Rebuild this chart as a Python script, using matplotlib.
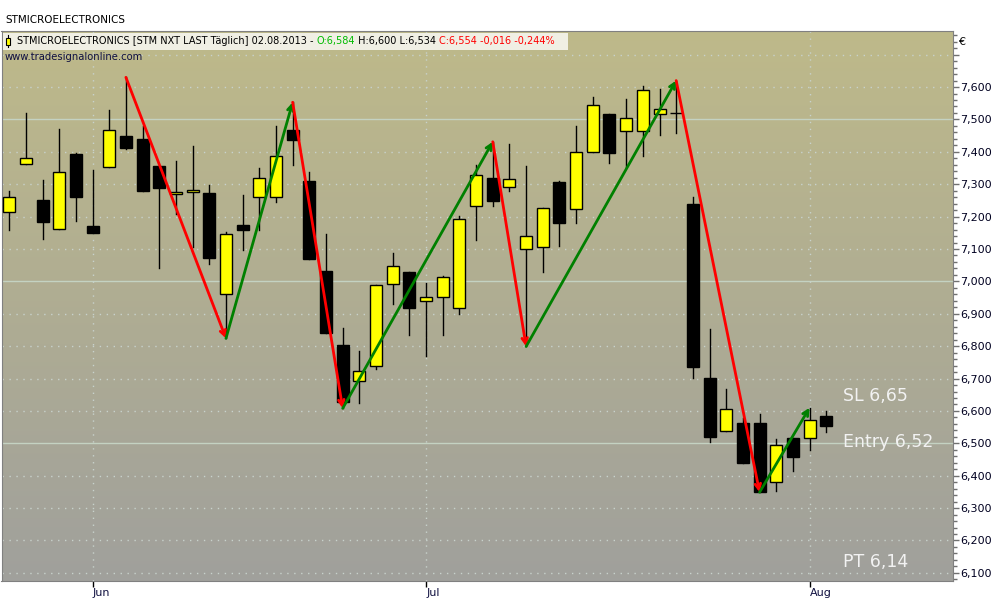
import numpy as np
import pandas as pd
import matplotlib
matplotlib.use("Agg")
import matplotlib.pyplot as plt
from matplotlib.patches import Rectangle
from matplotlib.ticker import MultipleLocator, FuncFormatter

# daily OHLC, STMicroelectronics 27.05.2013 - 02.08.2013
opens = [7.213, 7.361, 7.251, 7.161, 7.392, 7.171, 7.352, 7.448, 7.440, 7.355,
         7.269, 7.275, 7.273, 6.960, 7.174, 7.259, 7.259, 7.467, 7.310, 7.032,
         6.804, 6.691, 6.738, 6.991, 7.028, 6.938, 6.951, 6.917, 7.232, 7.319,
         7.290, 7.099, 7.105, 7.306, 7.222, 7.398, 7.517, 7.463, 7.463, 7.516,
         7.519, 7.239, 6.702, 6.537, 6.562, 6.562, 6.380, 6.516, 6.515, 6.584]
highs = [7.279, 7.520, 7.313, 7.470, 7.396, 7.344, 7.529, 7.630, 7.480, 7.355,
         7.372, 7.418, 7.298, 7.151, 7.267, 7.351, 7.480, 7.553, 7.338, 7.147,
         6.857, 6.785, 6.988, 7.088, 7.028, 6.995, 7.016, 7.202, 7.358, 7.431,
         7.424, 7.356, 7.226, 7.310, 7.480, 7.569, 7.517, 7.563, 7.602, 7.594,
         7.620, 7.261, 6.854, 6.668, 6.578, 6.590, 6.514, 6.516, 6.610, 6.600]
lows = [7.160, 7.361, 7.131, 7.161, 7.187, 7.148, 7.352, 7.410, 7.280, 7.042,
        7.209, 7.107, 7.055, 6.824, 7.098, 7.160, 7.246, 7.360, 7.070, 6.842,
        6.608, 6.626, 6.728, 6.931, 6.833, 6.771, 6.833, 6.900, 7.129, 7.234,
        7.280, 6.799, 7.030, 7.110, 7.181, 7.398, 7.366, 7.349, 7.388, 7.453,
        7.457, 6.703, 6.505, 6.537, 6.439, 6.349, 6.354, 6.416, 6.480, 6.534]
closes = [7.260, 7.380, 7.184, 7.337, 7.259, 7.148, 7.466, 7.413, 7.280, 7.289,
          7.275, 7.281, 7.073, 7.146, 7.160, 7.318, 7.386, 7.437, 7.070, 6.842,
          6.629, 6.722, 6.988, 7.047, 6.919, 6.951, 7.013, 7.192, 7.330, 7.249,
          7.315, 7.139, 7.226, 7.181, 7.401, 7.546, 7.397, 7.503, 7.590, 7.531,
          7.519, 6.735, 6.520, 6.607, 6.439, 6.349, 6.494, 6.458, 6.571, 6.554]

dates = pd.bdate_range("2013-05-27", "2013-08-02")
month_names = {6: "Jun", 7: "Jul", 8: "Aug"}

# zigzag pivots: (candle index, 'H' = high / 'L' = low)
pivots = [(7, "H"), (13, "L"), (17, "H"), (20, "L"), (29, "H"),
          (31, "L"), (40, "H"), (45, "L"), (48, "H")]

levels = ["SL 6,65", "Entry 6,52", "PT 6,14"]
level_y = [6.645, 6.505, 6.135]

fig = plt.figure(figsize=(10, 6), dpi=100)
fig.patch.set_facecolor("white")
ax = fig.add_axes([0.0015, 0.0317, 0.9515, 0.9166])

x = np.arange(len(opens))
ax.set_xlim(-0.46, 56.6)
ax.set_ylim(6.075, 7.773)

# gradient background
top = np.array([0.745, 0.727, 0.540])
bot = np.array([0.628, 0.628, 0.612])
t = np.linspace(0, 1, 256)[:, None]
grad = (top * (1 - t) + bot * t)[:, None, :]
ax.imshow(grad, extent=[0, 1, 0, 1], transform=ax.transAxes, aspect="auto", zorder=0)

# grid
for v in np.arange(6.1, 7.75, 0.1):
    v = round(v, 1)
    if abs(v * 2 - round(v * 2)) < 1e-6:
        ax.axhline(v, color="#c4d2c2", lw=1, zorder=1)
    else:
        ax.axhline(v, color="#c8d2cc", lw=1, ls=(0, (1, 4)), zorder=1)

month_pos = [i for i in range(1, len(dates)) if dates[i].month != dates[i - 1].month]
for p in month_pos:
    ax.axvline(p, color="#c8d2cc", lw=1, ls=(0, (1, 4)), zorder=1)

# candles
w = 0.72
for i in x:
    o, h, l, c = opens[i], highs[i], lows[i], closes[i]
    ax.plot([i, i], [l, h], color="black", lw=1, zorder=2)
    up = c >= o
    lo, hi = min(o, c), max(o, c)
    ax.add_patch(Rectangle((i - w / 2, lo), w, max(hi - lo, 0.0015),
                           facecolor="#ffff00" if up else "black",
                           edgecolor="black", lw=1, zorder=3))

# zigzag arrows
for (i0, k0), (i1, k1) in zip(pivots[:-1], pivots[1:]):
    y0 = highs[i0] if k0 == "H" else lows[i0]
    y1 = highs[i1] if k1 == "H" else lows[i1]
    col = "#ff0000" if y1 < y0 else "#008000"
    ax.annotate("", xy=(i1, y1), xytext=(i0, y0),
                arrowprops=dict(arrowstyle="->", color=col, lw=2,
                                mutation_scale=10, shrinkA=0, shrinkB=0),
                zorder=4)

for s, v in zip(levels, level_y):
    ax.text(50.0, v, s, color="#f2f2f2", fontsize=12.5, va="center", ha="left", zorder=5)

# axes styling
for sp in ax.spines.values():
    sp.set_color("#808080")
ax.yaxis.tick_right()
ax.yaxis.set_major_locator(MultipleLocator(0.1))
ax.yaxis.set_minor_locator(MultipleLocator(0.02))
ax.yaxis.set_major_formatter(
    FuncFormatter(lambda v, p: "" if v > 7.65 else f"{v:.3f}".replace(".", ",")))
ax.tick_params(axis="y", which="major", length=4, width=1, color="#707070",
               labelsize=8, pad=1, labelcolor="#000020")
ax.tick_params(axis="y", which="minor", length=3, width=1, color="#707070")
ax.set_xticks(month_pos)
ax.set_xticklabels([month_names[dates[p].month] for p in month_pos], ha="left")
ax.tick_params(axis="x", length=4, width=1, color="black", labelsize=8, pad=1,
               labelcolor="#101040")

# header texts
fig.text(0.005, 0.967, "STMICROELECTRONICS", fontsize=7.5, color="black", va="center")
fig.add_artist(Rectangle((0.003, 0.917), 0.565, 0.028, transform=fig.transFigure,
                         facecolor="#f0efe4", edgecolor="none", zorder=3))
fig.add_artist(plt.Line2D([0.0082, 0.0082], [0.921, 0.941], transform=fig.transFigure,
                          color="black", lw=0.8, zorder=4))
fig.add_artist(Rectangle((0.0062, 0.925), 0.004, 0.0115, transform=fig.transFigure,
                         facecolor="#ffff00", edgecolor="black", lw=0.8, zorder=5))

parts = [("STMICROELECTRONICS [STM NXT LAST Täglich] 02.08.2013 - ", "black"),
         ("O:6,584", "#00bb00"),
         (" H:6,600 L:6,534 ", "black"),
         ("C:6,554 -0,016 -0,244%", "#ff0000")]
renderer = fig.canvas.get_renderer()
xpos = 0.017
for s, col in parts:
    tx = fig.text(xpos, 0.931, s, fontsize=7.0, color=col, va="center", zorder=5)
    bb = tx.get_window_extent(renderer)
    xpos = bb.x1 / fig.bbox.width

fig.text(0.005, 0.905, "www.tradesignalonline.com", fontsize=7.2, color="#101040",
         va="center", zorder=5)
fig.text(0.958, 0.93, "€", fontsize=8, color="black", va="center")

fig.savefig("out.png", dpi=100)
